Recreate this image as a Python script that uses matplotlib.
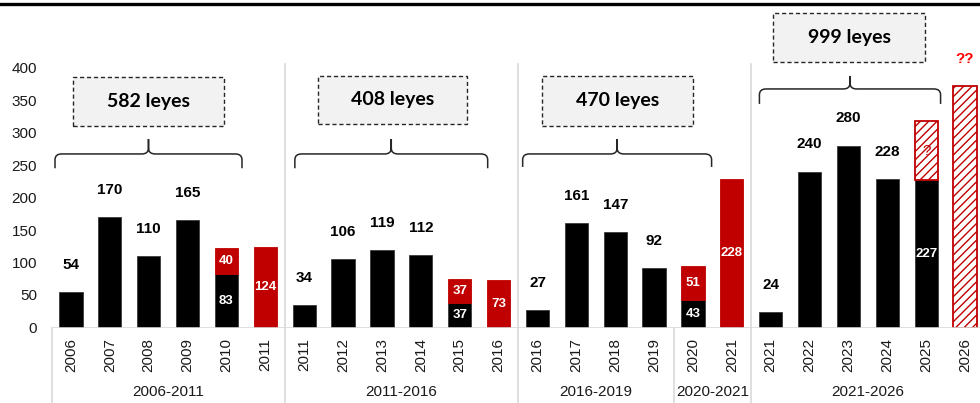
import matplotlib
matplotlib.use("Agg")
import matplotlib.pyplot as plt
from matplotlib.patches import Rectangle, PathPatch
from matplotlib.path import Path
from matplotlib.lines import Line2D

# ---------------- data ----------------
years = ['2006', '2007', '2008', '2009', '2010', '2011',
         '2011', '2012', '2013', '2014', '2015', '2016',
         '2016', '2017', '2018', '2019',
         '2020', '2021',
         '2021', '2022', '2023', '2024', '2025', '2026']
group_names = ['2006-2011', '2011-2016', '2016-2019', '2020-2021', '2021-2026']
group_sizes = [6, 6, 4, 2, 6]
black_vals = [54, 170, 110, 165, 83, 0,
              34, 106, 119, 112, 37, 0,
              27, 161, 147, 92,
              43, 0,
              24, 240, 280, 228, 227, 0]
red_vals = [0, 0, 0, 0, 40, 124,
            0, 0, 0, 0, 37, 73,
            0, 0, 0, 0,
            51, 228,
            0, 0, 0, 0, 0, 0]
hatch_vals = [0] * 22 + [90, 372]
hatch_labels = [''] * 22 + ['?', '??']
period_first = [0, 6, 12, 18]
period_last = [4, 10, 16, 22]
period_labels = ['582 leyes', '408 leyes', '470 leyes', '999 leyes']

# ---------------- style ----------------
BLACK = '#000000'
RED = '#C00000'
GRID = '#d9d9d9'
TXT = '#1a1a1a'
plt.rcParams['font.family'] = ['Liberation Sans', 'DejaVu Sans']
plt.rcParams['hatch.linewidth'] = 1.0

fig = plt.figure(figsize=(9.8, 4.03), dpi=100)
ax = fig.add_axes([51.5 / 980, 75.5 / 403, 933 / 980, 325 / 403])
ax.set_xlim(-0.5, len(years) - 0.5)
ax.set_ylim(0, 500)
for s in ax.spines.values():
    s.set_visible(False)

x = list(range(len(years)))
W = 0.6

# black bars
for i, v in enumerate(black_vals):
    if v > 0:
        ax.bar(i, v, width=W, color=BLACK, edgecolor='#3a3a3a', linewidth=0.6, zorder=3)
# red bars (stacked on black)
for i, v in enumerate(red_vals):
    if v > 0:
        ax.bar(i, v, bottom=black_vals[i], width=W, color=RED, edgecolor=RED,
               linewidth=0.6, zorder=3)
# hatched bars
for i, v in enumerate(hatch_vals):
    if v > 0:
        ax.bar(i, v, bottom=black_vals[i] + red_vals[i], width=W, color='white',
               edgecolor=RED, hatch='////', linewidth=1.3, zorder=3)

# labels
for i in x:
    b, r, h = black_vals[i], red_vals[i], hatch_vals[i]
    if b > 0 and r == 0 and h == 0:
        ax.annotate(str(b), (i, b), xytext=(0, 19.5), textcoords='offset points',
                    ha='center', va='center', fontsize=11, fontweight='bold',
                    color=BLACK, zorder=5)
    else:
        if b > 0:
            ax.text(i, b / 2, str(b), ha='center', va='center', fontsize=9.5,
                    fontweight='bold', color='white', zorder=5)
        if r > 0:
            ax.text(i, b + r / 2, str(r), ha='center', va='center', fontsize=9.5,
                    fontweight='bold', color='white', zorder=5)
    if h > 0:
        if b > 0:
            ax.text(i, b + r + h / 2, hatch_labels[i], ha='center', va='center',
                    fontsize=11, color=RED, zorder=5)
        else:
            ax.annotate(hatch_labels[i], (i, h), xytext=(0, 19.5),
                        textcoords='offset points', ha='center', va='center',
                        fontsize=11, fontweight='bold', color='#ff0000', zorder=5)

# ticks
ax.set_yticks(range(0, 401, 50))
ax.tick_params(axis='y', length=0, pad=10.4, labelsize=11, labelcolor=TXT)
ax.set_xticks(x)
ax.set_xticklabels(years, rotation=90)
ax.tick_params(axis='x', length=0, pad=7.5, labelsize=11, labelcolor=TXT)

# axis line and separators
ax.axhline(0, color=GRID, lw=1.2, zorder=4)
trans = ax.get_xaxis_transform()
bounds = [-0.5]
acc = 0
for n in group_sizes:
    acc += n
    bounds.append(acc - 0.5)
for bx in bounds[:-1]:
    ax.plot([bx, bx], [0, -0.24], transform=trans, color=GRID, lw=1.2, clip_on=False)
for bx in [5.5, 11.5, 17.5]:
    ax.plot([bx, bx], [0, 406], color=GRID, lw=1.2, zorder=1)

# group labels
start = 0
for name, n in zip(group_names, group_sizes):
    ax.text(start + (n - 1) / 2, -0.198, name, transform=trans, ha='center',
            va='center', fontsize=11, color=TXT, clip_on=False)
    start += n

# braces and boxes (layout)
brace_x = [(-0.41, 4.40), (5.76, 10.72), (11.62, 16.48), (17.71, 22.37)]
brace_y = [(245, 267, 290), (245, 267, 290), (247, 267, 290), (344, 367, 387)]
box_x = [(0.05, 3.93), (6.35, 10.18), (12.11, 15.99), (18.07, 21.98)]
box_y = [(310, 385), (313, 387), (310, 387), (408, 484)]


def brace(x0, x1, yend, yh, ytip):
    xm = (x0 + x1) / 2
    dx, dy = 0.17, 9
    verts = [(x0, yend), (x0, yh - dy), (x0, yh), (x0 + dx, yh),
             (xm - dx, yh), (xm, yh), (xm, yh + dy), (xm, ytip),
             (xm, yh + dy), (xm, yh), (xm + dx, yh),
             (x1 - dx, yh), (x1, yh), (x1, yh - dy), (x1, yend)]
    codes = [Path.MOVETO, Path.LINETO, Path.CURVE3, Path.CURVE3,
             Path.LINETO, Path.CURVE3, Path.CURVE3, Path.LINETO,
             Path.LINETO, Path.CURVE3, Path.CURVE3,
             Path.LINETO, Path.CURVE3, Path.CURVE3, Path.LINETO]
    ax.add_patch(PathPatch(Path(verts, codes), fill=False, edgecolor='#262626',
                           lw=1.1, zorder=4))


for k, lab in enumerate(period_labels):
    brace(brace_x[k][0], brace_x[k][1], *brace_y[k])
    (bx0, bx1), (by0, by1) = box_x[k], box_y[k]
    ax.add_patch(Rectangle((bx0, by0), bx1 - bx0, by1 - by0, facecolor='#f2f2f2',
                           edgecolor='#262626', lw=1.0, ls=(0, (3, 2)), zorder=4))
    ax.text((bx0 + bx1) / 2, (by0 + by1) / 2, lab, ha='center', va='center',
            fontsize=14, fontweight='bold', family=['Lato', 'DejaVu Sans'],
            color=BLACK, zorder=5)

# top rule
fig.add_artist(Line2D([0, 1], [0.990, 0.990], transform=fig.transFigure,
                      color='black', lw=2.4))

fig.savefig('out.png', dpi=100)
